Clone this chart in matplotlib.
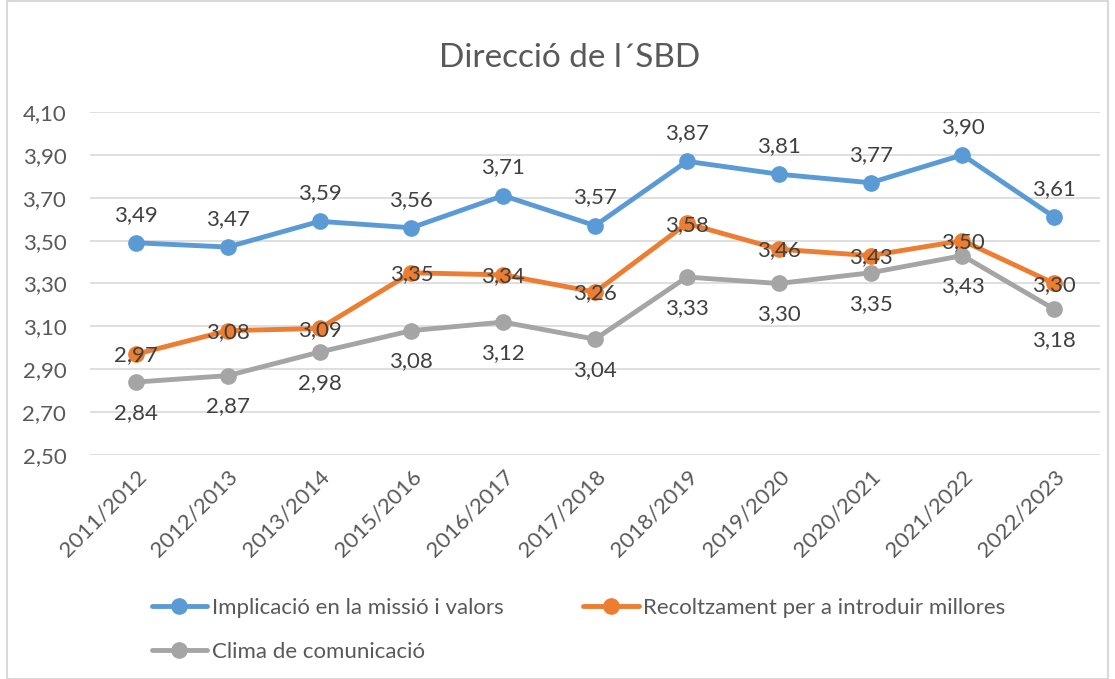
import matplotlib.pyplot as plt
from matplotlib.patches import Rectangle

plt.rcParams['font.family'] = ['Lato', 'DejaVu Sans']

# dades
cursos = ['2011/2012', '2012/2013', '2013/2014', '2015/2016', '2016/2017', '2017/2018',
          '2018/2019', '2019/2020', '2020/2021', '2021/2022', '2022/2023']
implicacio = [3.49, 3.47, 3.59, 3.56, 3.71, 3.57, 3.87, 3.81, 3.77, 3.90, 3.61]
recolzament = [2.97, 3.08, 3.09, 3.35, 3.34, 3.26, 3.58, 3.46, 3.43, 3.50, 3.30]
clima = [2.84, 2.87, 2.98, 3.08, 3.12, 3.04, 3.33, 3.30, 3.35, 3.43, 3.18]
yticks = [2.50, 2.70, 2.90, 3.10, 3.30, 3.50, 3.70, 3.90, 4.10]


def coma(v):
    return f'{v:.2f}'.replace('.', ',')


fs = 16
fig = plt.figure(figsize=(11.15, 6.79), dpi=100)
ax = fig.add_axes([0.0807, 0.330, 0.906, 0.505])

x = range(len(cursos))
series = [
    (implicacio, '#5B9BD5', 'Implicació en la missió i valors', 13),
    (recolzament, '#ED7D31', 'Recoltzament per a introduir millores', 0),
    (clima, '#A5A5A5', 'Clima de comunicació', -15),
]
lines = []
for vals, col, lab, off in series:
    ln, = ax.plot(x, vals, color=col, lw=3.5, marker='o', ms=11, label=lab,
                  solid_capstyle='round')
    lines.append(ln)
    for i, v in enumerate(vals):
        if off > 0:
            ax.annotate(coma(v), (i, v), xytext=(0, off), textcoords='offset points',
                        ha='center', va='bottom', fontsize=fs, color='#404040')
        elif off < 0:
            ax.annotate(coma(v), (i, v), xytext=(0, off), textcoords='offset points',
                        ha='center', va='top', fontsize=fs, color='#404040')
        else:
            ax.annotate(coma(v), (i, v), xytext=(0, -1), textcoords='offset points',
                        ha='center', va='center', fontsize=fs, color='#404040')

ax.set_xlim(-0.5, len(cursos) - 0.5)
ax.set_ylim(2.50, 4.10)
ax.set_yticks(yticks)
ax.set_yticklabels([coma(v) for v in yticks])
ax.set_xticks(list(x))
ax.set_xticklabels(cursos, rotation=45, ha='right', rotation_mode='anchor')
ax.tick_params(axis='both', length=0, labelsize=fs, labelcolor='#595959')
ax.tick_params(axis='y', pad=17)
ax.tick_params(axis='x', pad=8)
ax.grid(axis='y', color='#D9D9D9', lw=1.2)
ax.set_axisbelow(True)
for s in ax.spines.values():
    s.set_visible(False)

fig.text(0.511, 0.915, 'Direcció de l´SBD', ha='center', va='center',
         fontsize=24, color='#595959')

# ordre per files: blau, taronja / gris
leg = fig.legend(handles=[lines[0], lines[2], lines[1]], ncol=2, loc='upper left',
                 bbox_to_anchor=(0.128, 0.132),
                 frameon=False, fontsize=fs, handlelength=2.5, handletextpad=0.2,
                 columnspacing=3.6, labelspacing=1.05, borderaxespad=0)
for t in leg.get_texts():
    t.set_color('#595959')

fig.patches.append(Rectangle((0.006, 0.0), 0.988, 0.998, transform=fig.transFigure,
                             fill=False, edgecolor='#D9D9D9', lw=1.5))

fig.savefig('out.png', dpi=100)
